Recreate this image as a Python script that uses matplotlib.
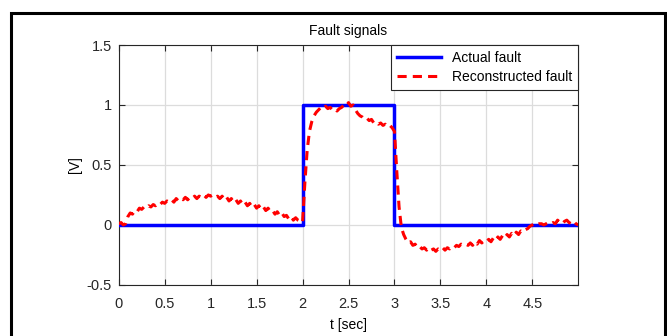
import numpy as np
import matplotlib.pyplot as plt
from matplotlib.patches import Rectangle

plt.rcParams['font.family'] = ['Liberation Sans', 'DejaVu Sans']

# actual fault (step 2 s -> 3 s)
t_actual = [0, 2, 2, 3, 3, 5]
f_actual = [0, 0, 1, 1, 0, 0]

# reconstructed fault, sampled every 0.025 s from 0 to 5 s
f_recon = [
    0.01, 0.02, 0.00, 0.01, 0.07, 0.10, 0.09, 0.12, 0.11, 0.14,
    0.13, 0.15, 0.14, 0.16, 0.15, 0.17, 0.16, 0.18, 0.17, 0.19,
    0.18, 0.20, 0.19, 0.21, 0.19, 0.22, 0.20, 0.22, 0.21, 0.23,
    0.21, 0.23, 0.22, 0.24, 0.22, 0.24, 0.23, 0.25, 0.23, 0.25,
    0.24,
    0.25, 0.23, 0.24, 0.22, 0.24, 0.21, 0.23, 0.20, 0.22, 0.19,
    0.21, 0.18, 0.20, 0.17, 0.19, 0.16, 0.18, 0.15, 0.17, 0.14,
    0.16, 0.13, 0.15, 0.12, 0.14, 0.11, 0.12, 0.09, 0.11, 0.08,
    0.10, 0.07, 0.08, 0.05, 0.07, 0.04, 0.06, 0.04, 0.03, 0.02,
    0.35, 0.62, 0.78, 0.86, 0.91, 0.94, 0.96, 0.98, 0.97, 0.99,
    0.97, 0.98, 0.96, 0.97, 0.95, 0.97, 0.98, 1.00, 0.99, 1.02,
    0.99, 1.00, 0.96, 0.93, 0.91, 0.90, 0.88, 0.89, 0.87, 0.88,
    0.85, 0.86, 0.84, 0.85, 0.83, 0.84, 0.82, 0.83, 0.81, 0.78,
    0.45, 0.15, -0.02, -0.08, -0.12, -0.15, -0.14, -0.17, -0.16, -0.19,
    -0.18, -0.20, -0.19, -0.21, -0.19, -0.21, -0.20, -0.22, -0.20, -0.21,
    -0.19, -0.21, -0.19, -0.20, -0.18, -0.19, -0.17, -0.18, -0.16, -0.17,
    -0.16, -0.17, -0.15, -0.17, -0.14, -0.16, -0.13, -0.15, -0.13, -0.14,
    -0.12, -0.14, -0.11, -0.13, -0.10, -0.12, -0.09, -0.11, -0.08, -0.10,
    -0.07, -0.09, -0.06, -0.08, -0.05, -0.06, -0.04, -0.03, -0.01, 0.00,
    0.01, 0.00, 0.01, 0.01, 0.00, 0.01, 0.02, 0.01, 0.02, 0.01,
    0.04, 0.02, 0.01, 0.03, 0.04, 0.02, 0.01, 0.03, 0.01, 0.00,
]
t_recon = np.linspace(0, 5, len(f_recon))

xticks = [0, 0.5, 1, 1.5, 2, 2.5, 3, 3.5, 4, 4.5]
yticks = [-0.5, 0, 0.5, 1, 1.5]

fig = plt.figure(figsize=(6.67, 3.36), dpi=100)
ax = fig.add_axes([0.178, 0.152, 0.689, 0.714])

ax.plot(t_actual, f_actual, color='#0000ff', lw=2.5, label='Actual fault', zorder=3)
ax.plot(t_recon, f_recon, color='#ff0000', lw=2.2, ls=(0, (3, 2)),
        label='Reconstructed fault', zorder=4)

ax.set_xlim(0, 5)
ax.set_ylim(-0.5, 1.5)
ax.set_xticks(xticks)
ax.set_xticklabels([f'{v:g}' for v in xticks])
ax.set_yticks(yticks)
ax.set_yticklabels([f'{v:g}' for v in yticks])
ax.tick_params(direction='in', top=True, right=True, labelsize=10.5,
               colors='#262626', length=4)
ax.tick_params(axis='x', pad=9)
ax.tick_params(axis='y', pad=5)
ax.grid(True, color='#dcdcdc', lw=0.9)
for s in ax.spines.values():
    s.set_color('#262626')
    s.set_linewidth(0.8)

ax.set_title('Fault signals', fontsize=10, pad=7)
ax.set_xlabel('t [sec]', fontsize=10, labelpad=5)
ax.set_ylabel('[V]', fontsize=10, labelpad=3)

leg = ax.legend(loc='upper right', fontsize=10, fancybox=False, framealpha=1,
                edgecolor='#262626', borderaxespad=0, handlelength=3.2,
                labelspacing=0.4)
leg.get_frame().set_linewidth(0.8)

# black outer frame
fig.patches.append(Rectangle((11 / 667, -0.1), 654 / 667, 1.1 - 13 / 336,
                             transform=fig.transFigure, fill=False,
                             edgecolor='black', lw=2.2, clip_on=False))

fig.savefig('out.png', dpi=100)
